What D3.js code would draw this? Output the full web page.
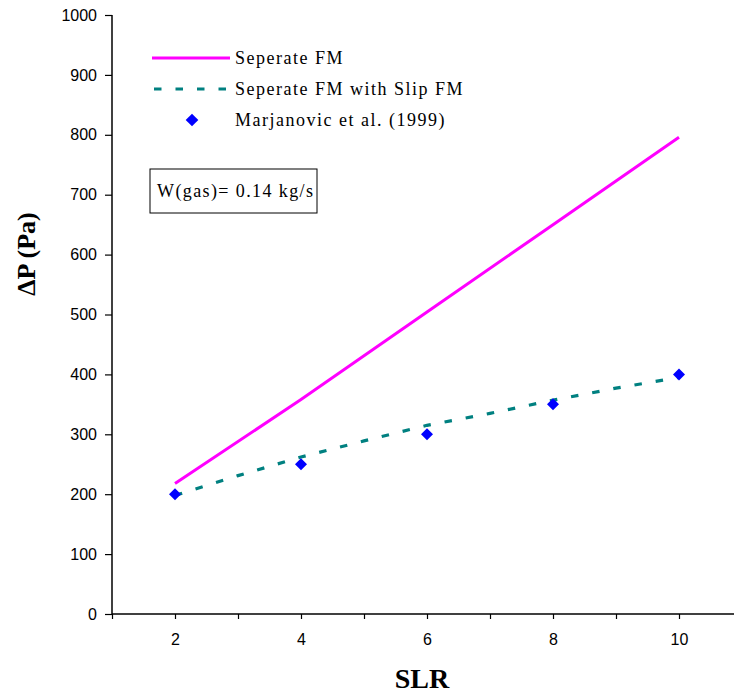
<!DOCTYPE html>
<html>
<head>
<meta charset="utf-8">
<script src="https://cdn.jsdelivr.net/npm/d3@7"></script>
<style>
  html, body { margin: 0; padding: 0; background: #fff; }
  svg { display: block; }
</style>
</head>
<body>
<div id="chart"></div>
<script>
// Pressure drop vs. SLR for W(gas) = 0.14 kg/s
const separateSLR = [2, 4, 6, 8, 10];
const separateDP  = [218, 358, 504, 650, 796];

const slipSLR = [2, 3, 4, 5, 6, 7, 8, 9, 10];
const slipDP  = [198, 231, 262, 289, 315, 335, 357, 377, 395];

const expSLR = [2, 4, 6, 8, 10];
const expDP  = [200, 250, 300, 350, 400];

const yTicks = [0, 100, 200, 300, 400, 500, 600, 700, 800, 900, 1000];
const xTicks = [1, 2, 3, 4, 5, 6, 7, 8, 9, 10, 11];
const xLabels = [2, 4, 6, 8, 10];

const legendLabels = ["Seperate FM", "Seperate FM with Slip FM", "Marjanovic et al. (1999)"];
const noteText = "W(gas)= 0.14 kg/s";

const W = 734, H = 694;
const svg = d3.select("#chart").append("svg").attr("width", W).attr("height", H);

const x = d3.scaleLinear().domain([1, 11]).range([112, 742]);
const y = d3.scaleLinear().domain([0, 1000]).range([614, 15]);

// Axes
const yAxis = svg.append("g").attr("transform", "translate(112,0)")
  .call(d3.axisLeft(y).tickValues(yTicks).tickSize(7).tickPadding(8).tickFormat(d3.format("d")));
yAxis.select(".domain").attr("d", `M0,${y(1000)}V${y(0)}`);

const xAxis = svg.append("g").attr("transform", "translate(0,614)")
  .call(d3.axisBottom(x).tickValues(xTicks).tickSize(5).tickPadding(15)
    .tickFormat(d => xLabels.includes(d) ? d : ""));
xAxis.select(".domain").attr("d", `M${x(1)},0H${W}`);

svg.selectAll(".domain").attr("stroke", "#000").attr("stroke-width", 1.5);
svg.selectAll(".tick line").attr("stroke", "#000").attr("stroke-width", 1.2);
svg.selectAll(".tick text")
  .attr("font-family", "'Liberation Sans', Arial, sans-serif")
  .attr("font-size", 16).attr("fill", "#000");

// Axis titles
svg.append("text")
  .attr("transform", "translate(35,254) rotate(-90)")
  .attr("text-anchor", "middle")
  .attr("font-family", "'Liberation Serif', 'Times New Roman', serif")
  .attr("font-weight", "bold").attr("font-size", 26)
  .text("ΔP (Pa)");

svg.append("text")
  .attr("x", 422).attr("y", 688)
  .attr("text-anchor", "middle")
  .attr("font-family", "'Liberation Serif', 'Times New Roman', serif")
  .attr("font-weight", "bold").attr("font-size", 28)
  .text("SLR");

// Series
const line = d3.line().x(d => x(d[0])).y(d => y(d[1]));

svg.append("path")
  .datum(d3.zip(separateSLR, separateDP))
  .attr("d", line)
  .attr("fill", "none").attr("stroke", "#FF00FF").attr("stroke-width", 3);

svg.append("path")
  .datum(d3.zip(slipSLR, slipDP))
  .attr("d", line)
  .attr("fill", "none").attr("stroke", "#008080").attr("stroke-width", 3.2)
  .attr("stroke-dasharray", "7.5 14");

const diamond = s => `M0,${-s}L${s},0L0,${s}L${-s},0Z`;

svg.append("g").selectAll("path")
  .data(d3.zip(expSLR, expDP))
  .join("path")
  .attr("transform", d => `translate(${x(d[0])},${y(d[1])})`)
  .attr("d", diamond(6))
  .attr("fill", "#0000FF");

// Legend
const serif = "'Liberation Serif', 'Times New Roman', serif";
const leg = svg.append("g");
const legY = [58, 89, 120];

leg.append("line").attr("x1", 152).attr("x2", 230).attr("y1", legY[0]).attr("y2", legY[0])
  .attr("stroke", "#FF00FF").attr("stroke-width", 3);
leg.append("line").attr("x1", 154).attr("x2", 232).attr("y1", legY[1]).attr("y2", legY[1])
  .attr("stroke", "#008080").attr("stroke-width", 3.2).attr("stroke-dasharray", "7.5 14");
leg.append("path").attr("transform", `translate(192,${legY[2]})`)
  .attr("d", diamond(6.3)).attr("fill", "#0000FF");

leg.selectAll("text")
  .data(legendLabels)
  .join("text")
  .attr("x", 235).attr("y", (d, i) => legY[i] + 6)
  .attr("font-family", serif).attr("font-size", 18)
  .attr("letter-spacing", 1.5)
  .text(d => d);

// Condition note box
svg.append("rect")
  .attr("x", 150).attr("y", 169).attr("width", 167).attr("height", 44)
  .attr("fill", "#fff").attr("stroke", "#000").attr("stroke-width", 1);
svg.append("text")
  .attr("x", 157).attr("y", 197)
  .attr("font-family", serif).attr("font-size", 18)
  .attr("letter-spacing", 1.4)
  .text(noteText);
</script>
</body>
</html>
